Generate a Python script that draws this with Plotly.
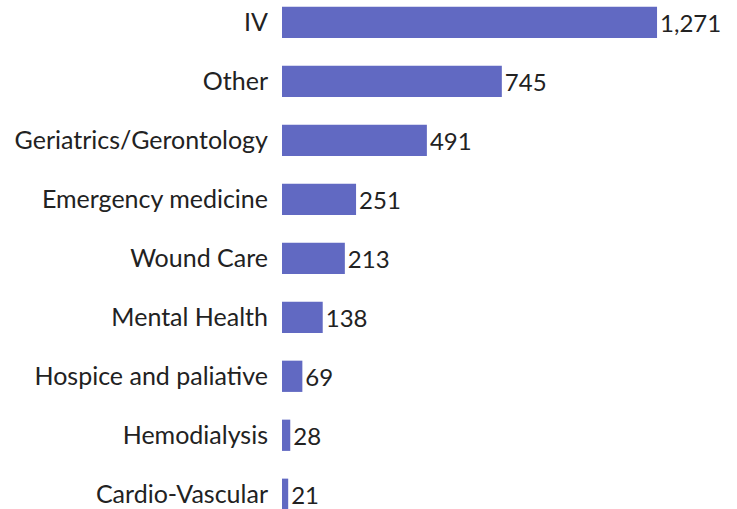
import plotly.graph_objects as go

categories = ["IV", "Other", "Geriatrics/Gerontology", "Emergency medicine", "Wound Care",
              "Mental Health", "Hospice and paliative", "Hemodialysis", "Cardio-Vascular"]
values = [1271, 745, 491, 251, 213, 138, 69, 28, 21]
value_labels = ["1,271", "745", "491", "251", "213", "138", "69", "28", "21"]

fig = go.Figure(go.Bar(
    x=values, y=categories, orientation="h",
    text=value_labels, textposition="outside", cliponaxis=False,
    textfont=dict(size=24, color="#222222", family="Lato"),
    marker=dict(color="#6169c2", line=dict(width=0)),
    width=0.53, hoverinfo="skip",
))
fig.update_layout(
    width=737, height=509,
    margin=dict(l=282, r=0, t=0, b=0, autoexpand=False),
    paper_bgcolor="white", plot_bgcolor="white",
    showlegend=False,
    font=dict(family="Lato", size=24, color="#222222"),
)
fig.update_xaxes(range=[0, 1542], visible=False, automargin=False)
fig.update_yaxes(range=[8.25, -0.38], showgrid=False, showline=False, zeroline=False,
                 automargin=False, ticks="", ticklabelstandoff=13,
                 tickfont=dict(size=25, color="#222222", family="Lato"))
fig.write_html("out.html", config={"displayModeBar": False},
               post_script="document.body.style.margin='0';document.body.style.overflow='hidden';")
